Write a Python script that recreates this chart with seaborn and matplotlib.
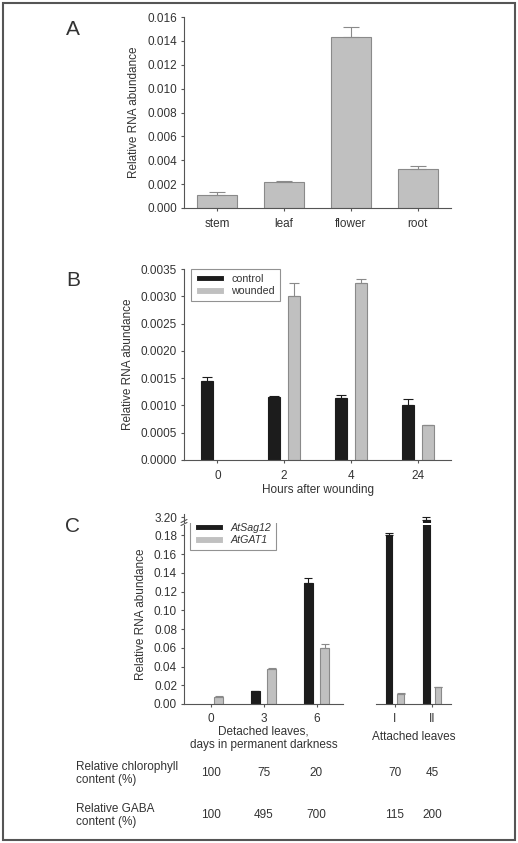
import numpy as np
import pandas as pd
import seaborn as sns
import matplotlib.pyplot as plt
from matplotlib.lines import Line2D
from matplotlib.patches import Rectangle
from matplotlib.ticker import FormatStrFormatter, MultipleLocator
from matplotlib.transforms import blended_transform_factory

# ---- data ----
# A: organs
organs = ["stem", "leaf", "flower", "root"]
organ_mean = [0.0011, 0.0022, 0.0143, 0.0033]
organ_err = [0.0002, 0.00005, 0.0009, 0.0002]

# B: hours after wounding
hours = ["0", "2", "4", "24"]
control_mean = [0.00144, 0.00116, 0.00113, 0.00100]
control_err = [0.00009, 0.00001, 0.00006, 0.00012]
wounded_mean = [0.0, 0.00301, 0.00325, 0.00064]
wounded_err = [0.0, 0.00023, 0.00007, 0.00001]

# C: detached / attached leaves
detached_days = ["0", "3", "6"]
sag12_detached = [0.0, 0.0134, 0.1296]
sag12_detached_err = [0.0, 0.0006, 0.0045]
gat1_detached = [0.0077, 0.0378, 0.0600]
gat1_detached_err = [0.0005, 0.0007, 0.0043]

attached_stage = ["I", "II"]
sag12_attached = [0.180, 3.197]
sag12_attached_err = [0.003, 0.003]
gat1_attached = [0.0109, 0.0180]
gat1_attached_err = [0.0006, 0.0005]

chlorophyll = ["100", "75", "20", "70", "45"]
gaba = ["100", "495", "700", "115", "200"]

BLACK = "#1c1c1c"
GRAY = "#c0c0c0"
GRAY_EDGE = "#8a8a8a"

sns.set_theme(style="ticks")
plt.rcParams.update({
    "font.family": ["Liberation Sans", "DejaVu Sans"],
    "font.size": 8.5,
    "axes.linewidth": 0.8,
    "axes.edgecolor": "#555555",
    "axes.labelcolor": "#333333",
    "text.color": "#333333",
    "xtick.color": "#555555",
    "ytick.color": "#555555",
    "xtick.labelcolor": "#333333",
    "ytick.labelcolor": "#333333",
    "xtick.labelsize": 8.5,
    "ytick.labelsize": 8.5,
    "xtick.major.size": 2.5,
    "ytick.major.size": 2.5,
    "xtick.major.width": 0.8,
    "ytick.major.width": 0.8,
    "xtick.major.pad": 2.5,
    "ytick.major.pad": 2.5,
    "axes.labelsize": 8.5,
})

W, H = 518, 843
fig = plt.figure(figsize=(W / 100, H / 100), dpi=100)


def add_ax(left, top, right, bottom):
    return fig.add_axes([left / W, 1 - bottom / H, (right - left) / W, (bottom - top) / H])


def add_errors(ax, errs_by_hue, colors, capsize):
    bars = list(ax.containers)
    for cont, errs, col in zip(bars, errs_by_hue, colors):
        for bar, e in zip(cont, errs):
            h = bar.get_height()
            if h <= 0:
                bar.set_visible(False)
                continue
            x = bar.get_x() + bar.get_width() / 2
            ax.errorbar(x, h, yerr=[[0], [e]], fmt="none", ecolor=col,
                        elinewidth=0.8, capsize=capsize, capthick=0.8)


def long_table(cats, a, b, names):
    return pd.DataFrame({
        "cat": cats * 2,
        "value": a + b,
        "series": [names[0]] * len(cats) + [names[1]] * len(cats),
    })


def style_legend(leg, italic=False):
    leg.get_frame().set_edgecolor("#777777")
    leg.get_frame().set_linewidth(0.8)
    for t in leg.get_texts():
        if italic:
            t.set_fontstyle("italic")


# ---- panel A ----
axA = add_ax(184, 17, 451, 208)
sns.barplot(x=organs, y=organ_mean, color=GRAY, edgecolor=GRAY_EDGE, linewidth=0.8,
            width=0.6, saturation=1, errorbar=None, ax=axA)
add_errors(axA, [organ_err], [GRAY_EDGE], capsize=6)
axA.set_ylim(0, 0.016)
axA.set_xlim(-0.5, 3.5)
axA.yaxis.set_major_locator(MultipleLocator(0.002))
axA.yaxis.set_major_formatter(FormatStrFormatter("%.3f"))
axA.set_ylabel("Relative RNA abundance", labelpad=5)
axA.tick_params(axis="x", pad=5)
sns.despine(ax=axA)

# ---- panel B ----
axB = add_ax(184, 269, 451, 460)
dfB = long_table(hours, control_mean, wounded_mean, ["control", "wounded"])
sns.barplot(data=dfB, x="cat", y="value", hue="series", order=hours,
            hue_order=["control", "wounded"], palette={"control": BLACK, "wounded": GRAY},
            width=0.6, gap=0.4, saturation=1, errorbar=None, linewidth=0.8, ax=axB)
for cont, ec in zip(list(axB.containers), [BLACK, GRAY_EDGE]):
    for bar in cont:
        bar.set_edgecolor(ec)
add_errors(axB, [control_err, wounded_err], [BLACK, GRAY_EDGE], capsize=3.5)
axB.set_ylim(0, 0.0035)
axB.set_xlim(-0.5, 3.5)
axB.yaxis.set_major_locator(MultipleLocator(0.0005))
axB.yaxis.set_major_formatter(FormatStrFormatter("%.4f"))
axB.set_ylabel("Relative RNA abundance", labelpad=5)
axB.set_xlabel("Hours after wounding", labelpad=1)
axB.tick_params(axis="x", pad=5)
legB = axB.legend(loc="upper left", bbox_to_anchor=(7 / 267, 1.0), borderaxespad=0,
                  fontsize=7.7, frameon=True, fancybox=False, handlelength=2.6,
                  handleheight=0.55, borderpad=0.45, labelspacing=0.25, handletextpad=0.7)
style_legend(legB)
sns.despine(ax=axB)

# ---- panel C (broken y axis) ----
ax_dl = add_ax(184, 524.5, 343, 704)
ax_al = add_ax(376, 524.5, 451, 704)
ax_du = add_ax(184, 514, 343, 522.5)
ax_au = add_ax(376, 514, 451, 522.5)

groups = [
    (ax_dl, ax_du, detached_days, sag12_detached, gat1_detached,
     sag12_detached_err, gat1_detached_err),
    (ax_al, ax_au, attached_stage, sag12_attached, gat1_attached,
     sag12_attached_err, gat1_attached_err),
]
low_top = 0.1917
up_lim = (3.1942, 3.2032)
for ax_lo, ax_up, cats, sag, gat, sag_e, gat_e in groups:
    dfC = long_table(cats, sag, gat, ["AtSag12", "AtGAT1"])
    for ax in (ax_lo, ax_up):
        sns.barplot(data=dfC, x="cat", y="value", hue="series", order=cats,
                    hue_order=["AtSag12", "AtGAT1"],
                    palette={"AtSag12": BLACK, "AtGAT1": GRAY},
                    width=0.62, gap=0.45, saturation=1, errorbar=None,
                    linewidth=0.8, legend=(ax is ax_dl), ax=ax)
        for cont, ec in zip(list(ax.containers), [BLACK, GRAY_EDGE]):
            for bar in cont:
                bar.set_edgecolor(ec)
        add_errors(ax, [sag_e, gat_e], [BLACK, GRAY_EDGE], capsize=3)
        ax.set_xlim(-0.5, len(cats) - 0.5)
        ax.set_xlabel("")
        ax.set_ylabel("")
    ax_lo.set_ylim(0, low_top)
    ax_up.set_ylim(*up_lim)
    sns.despine(ax=ax_lo)
    sns.despine(ax=ax_up, bottom=True)
    ax_up.tick_params(axis="x", bottom=False, labelbottom=False)
    ax_lo.tick_params(axis="x", pad=4)

ax_dl.yaxis.set_major_locator(MultipleLocator(0.02))
ax_dl.yaxis.set_major_formatter(FormatStrFormatter("%.2f"))
ax_du.set_yticks([3.20])
ax_du.yaxis.set_major_formatter(FormatStrFormatter("%.2f"))
for ax in (ax_al, ax_au):
    ax.spines["left"].set_visible(False)
    ax.tick_params(axis="y", left=False, labelleft=False)

ax_dl.set_ylabel("Relative RNA abundance", labelpad=5)
ax_dl.set_xlabel("Detached leaves,\ndays in permanent darkness", labelpad=0.5, linespacing=1.1)
ax_al.set_xlabel("Attached leaves", labelpad=4)

legC = ax_dl.legend(loc="upper left", bbox_to_anchor=(6 / 159, 1 + 6.5 / 179.5),
                    borderaxespad=0, fontsize=7.7, frameon=True, fancybox=False,
                    handlelength=2.6, handleheight=0.55, borderpad=0.45,
                    labelspacing=0.25, handletextpad=0.7)
style_legend(legC, italic=True)

# break marks on the left spine
for y0 in (521.0, 524.0):
    fig.add_artist(Line2D([181 / W, 187 / W], [1 - (y0 + 1.5) / H, 1 - (y0 - 1.5) / H],
                          transform=fig.transFigure, color="#555555", lw=0.8))

# ---- table rows under panel C ----
row_specs = [("Relative chlorophyll\ncontent (%)", chlorophyll, 773.5),
             ("Relative GABA\ncontent (%)", gaba, 815.5)]
n_det = len(detached_days)
for label, vals, ypx in row_specs:
    fig.text(76 / W, 1 - ypx / H, label, ha="left", va="center", fontsize=8.5, linespacing=1.1)
    for i, v in enumerate(vals):
        if i < n_det:
            tr = blended_transform_factory(ax_dl.transData, fig.transFigure)
            xi = i
        else:
            tr = blended_transform_factory(ax_al.transData, fig.transFigure)
            xi = i - n_det
        fig.text(xi, 1 - (ypx - 0.5) / H, v, ha="center", va="center", fontsize=8.5, transform=tr)

# ---- panel letters and outer frame ----
for letter, ypx in (("A", 29.5), ("B", 281), ("C", 526)):
    fig.text(73 / W, 1 - ypx / H, letter, ha="center", va="center", fontsize=15)

fig.add_artist(Rectangle((3 / W, 3 / H), 512 / W, 837 / H, transform=fig.transFigure,
                         fill=False, edgecolor="#555555", linewidth=1.5))

fig.savefig("out.png", dpi=100)
